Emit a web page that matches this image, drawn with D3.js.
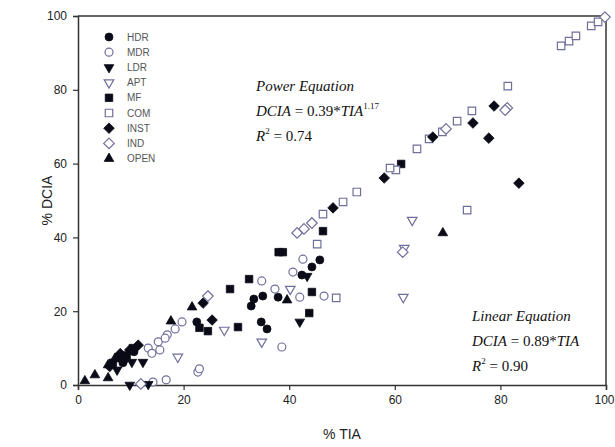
<!DOCTYPE html>
<html><head><meta charset="utf-8">
<script src="https://cdn.jsdelivr.net/npm/d3@7"></script>
<style>body{margin:0;background:#fff}svg{display:block}</style>
</head><body><svg id="c" width="615" height="447"></svg>
<script>
const categories = ["HDR","MDR","LDR","APT","MF","COM","INST","IND","OPEN"];
const xTicks = [0,20,40,60,80,100];
const yTicks = [0,20,40,60,80,100];

const HDR = [[45.8,33.9],[44.3,32.0],[42.4,29.8],[37.9,23.8],[35.0,24.1],[33.3,23.3],[32.8,21.4],[34.7,17.1],[35.8,15.2],[22.5,17.1],[8.5,6.0],[10.6,9.0]];
const MDR = [[42.6,34.1],[40.7,30.6],[34.8,28.2],[37.3,26.0],[42.0,23.8],[46.6,24.1],[38.6,10.3],[22.7,3.5],[23.0,4.4],[16.7,1.4],[14.2,0.8],[13.3,10.0],[15.2,11.7],[16.9,13.6],[18.4,15.2],[19.7,17.1],[15.5,9.5],[16.5,12.7],[14.0,8.6]];
const LDR = [[43.4,29.5],[42.0,17.1],[12.3,6.2],[9.8,0.0],[13.3,0.2],[7.4,4.1],[9.0,6.8],[10.2,6.2]];
const APT = [[40.2,26.0],[34.8,11.7],[27.7,14.9],[18.9,7.6],[61.8,37.1],[63.3,44.7],[61.6,23.8]];
const MF = [[38.0,36.0],[38.8,36.0],[32.4,28.7],[28.8,26.0],[44.3,25.2],[43.8,19.5],[30.3,15.7],[24.6,14.6],[46.4,41.7],[61.2,59.9],[23.0,15.5],[6.6,6.0],[7.8,7.3],[9.2,8.0],[10.4,10.0]];
const COM = [[91.5,91.9],[93.0,93.2],[94.3,94.6],[97.2,97.3],[98.5,98.4],[81.4,81.0],[74.6,74.3],[71.8,71.5],[66.5,66.7],[69.0,68.6],[64.2,64.0],[60.2,58.3],[59.1,58.8],[52.8,52.3],[50.2,49.6],[46.4,46.3],[45.3,38.2],[48.9,23.6],[73.7,47.4]];
const INST = [[78.8,75.6],[74.8,71.0],[77.8,66.9],[83.5,54.7],[67.2,67.2],[58.0,56.1],[48.3,48.0],[23.7,22.2],[25.4,17.6],[8.0,8.5],[9.8,9.5],[11.4,10.8],[6.0,5.0]];
const IND = [[99.8,99.7],[81.3,75.1],[80.9,74.5],[69.7,69.4],[44.3,43.9],[42.8,42.3],[41.5,41.2],[24.6,24.1],[61.5,36.0],[11.9,0.3]];
const OPEN = [[69.1,41.2],[39.6,23.0],[21.6,21.1],[17.6,17.3],[1.3,1.1],[3.2,2.7],[5.7,1.9],[5.7,5.4],[7.0,7.2]];

const seriesValues = [HDR,MDR,LDR,APT,MF,COM,INST,IND,OPEN];
const shapes = ["circle","circle","tdown","tdown","square","square","diamond","diamond","tup"];
const filled = [true,false,true,false,true,false,true,false,true];

const FILL = "#0b0b18", OUT = "#6f6f9c";
const svg = d3.select("#c");
const L=78,R=606,T=16,B=385;
const x = d3.scaleLinear().domain([0,100]).range([L,R]);
const y = d3.scaleLinear().domain([0,100]).range([B,T]);

const rotSquare = { draw(ctx,size){ const r=Math.sqrt(size/2); ctx.moveTo(0,-r); ctx.lineTo(r,0); ctx.lineTo(0,r); ctx.lineTo(-r,0); ctx.closePath(); } };
function sym(shape){
  if(shape==="circle") return d3.symbol(d3.symbolCircle,50)();
  if(shape==="square") return d3.symbol(d3.symbolSquare,56)();
  if(shape==="diamond") return d3.symbol(rotSquare,56)();
  return d3.symbol(d3.symbolTriangle,40)();
}
function tr(shape,px,py){ return `translate(${px},${py})`+(shape==="tdown"?" rotate(180)":""); }

// frame
svg.append("line").attr("x1",L).attr("x2",R).attr("y1",T).attr("y2",T).attr("stroke","#333").attr("stroke-width",1.5);
svg.append("line").attr("x1",R).attr("x2",R).attr("y1",T).attr("y2",B).attr("stroke","#333").attr("stroke-width",1.5);

const xa = svg.append("g").attr("transform",`translate(0,${B})`).call(d3.axisBottom(x).tickValues(xTicks).tickSize(5).tickPadding(5));
const ya = svg.append("g").attr("transform",`translate(${L},0)`).call(d3.axisLeft(y).tickValues(yTicks).tickSize(5).tickPadding(6));
[xa,ya].forEach(g=>{
  g.select(".domain").attr("stroke","#333").attr("stroke-width",1.5);
  g.selectAll(".tick line").attr("stroke","#333").attr("stroke-width",1.2);
  g.selectAll(".tick text").attr("fill","#222").style("font-family","Liberation Sans, Arial, sans-serif").style("font-size","12px");
});
xa.selectAll(".tick text").filter(d=>d===100).attr("text-anchor","end").attr("dx",8);

svg.append("text").attr("x",(L+R)/2).attr("y",439).attr("text-anchor","middle").attr("fill","#222")
  .style("font-family","Liberation Sans, Arial, sans-serif").style("font-size","14px").text("% TIA");
svg.append("text").attr("transform",`translate(52,${(T+B)/2}) rotate(-90)`).attr("text-anchor","middle").attr("fill","#222")
  .style("font-family","Liberation Sans, Arial, sans-serif").style("font-size","14px").text("% DCIA");

// points
seriesValues.forEach((vals,i)=>{
  svg.append("g").selectAll("path").data(vals).join("path")
    .attr("d",sym(shapes[i]))
    .attr("transform",d=>tr(shapes[i],x(d[0]),y(d[1])))
    .attr("fill",filled[i]?FILL:"#fff")
    .attr("stroke",filled[i]?FILL:OUT)
    .attr("stroke-width",filled[i]?0.8:1.2);
});

// legend
const lg = svg.append("g");
categories.forEach((c,i)=>{
  const yy = 37 + i*15.2;
  lg.append("path").attr("d",sym(shapes[i])).attr("transform",tr(shapes[i],109,yy))
    .attr("fill",filled[i]?FILL:"#fff").attr("stroke",filled[i]?FILL:OUT).attr("stroke-width",filled[i]?0.8:1.2);
  lg.append("text").attr("x",127).attr("y",yy+3.5).attr("fill","#555")
    .style("font-family","Liberation Sans, Arial, sans-serif").style("font-size","10px").text(c);
});

// equations
function eqBlock(x0,y0,title,coef,hasPow,r2){
  const g = svg.append("g").style("font-family","Liberation Serif, Times New Roman, serif").style("font-size","15px").attr("fill","#111");
  g.append("text").attr("x",x0).attr("y",y0).style("font-style","italic").text(title);
  const t = g.append("text").attr("x",x0).attr("y",y0+25);
  t.append("tspan").style("font-style","italic").text("DCIA");
  t.append("tspan").text(" = "+coef+"*");
  t.append("tspan").style("font-style","italic").text("TIA");
  if(hasPow) t.append("tspan").attr("dy",-7).style("font-size","9px").text(hasPow);
  const r = g.append("text").attr("x",x0).attr("y",y0+50);
  r.append("tspan").style("font-style","italic").text("R");
  r.append("tspan").attr("dy",-7).style("font-size","9px").text("2");
  r.append("tspan").attr("dy",7).text(" = "+r2);
}
eqBlock(256,91,"Power Equation","0.39","1.17","0.74");
eqBlock(472,321,"Linear Equation","0.89",null,"0.90");
</script></body></html>
